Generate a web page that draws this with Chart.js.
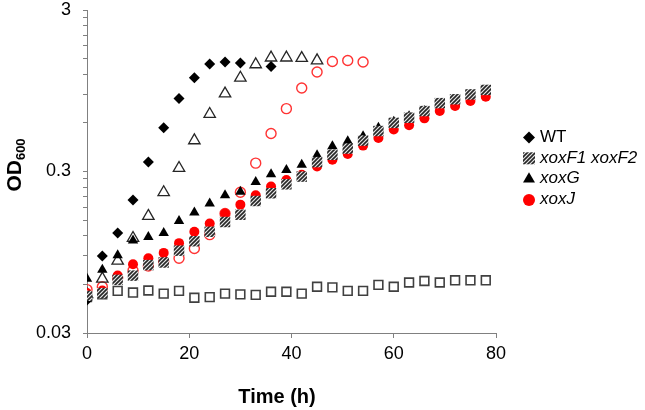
<!DOCTYPE html>
<html>
<head>
<meta charset="utf-8">
<script src="https://cdn.jsdelivr.net/npm/chart.js@4/dist/chart.umd.min.js"></script>
<style>
  body { margin: 0; background: #fff; }
  #wrap { width: 645px; height: 410px; }
</style>
</head>
<body>
<div id="wrap"><canvas id="growthChart"></canvas></div>
<script>
// ===== DATA =====
const timeAll = [0, 3, 6, 9, 12, 15, 18, 21, 24, 27, 30, 33, 36, 39, 42, 45, 48, 51, 54, 57, 60, 63, 66, 69, 72, 75, 78];
const timeWT = [0, 3, 6, 9, 12, 15, 18, 21, 24, 27, 30, 36];
const timeOpenTri = [0, 3, 6, 9, 12, 15, 18, 21, 24, 27, 30, 33, 36, 39, 42, 45];
const timeOpenRed = [0, 3, 6, 9, 12, 15, 18, 21, 24, 27, 30, 33, 36, 39, 42, 45, 48, 51, 54];

const odWT = [0.048, 0.090, 0.125, 0.20, 0.343, 0.56, 0.85, 1.14, 1.39, 1.43, 1.41, 1.34];
const odXoxF = [0.051, 0.053, 0.064, 0.068, 0.079, 0.082, 0.097, 0.111, 0.127, 0.146, 0.162, 0.197, 0.22, 0.25,
  0.279, 0.343, 0.381, 0.416, 0.466, 0.534, 0.60, 0.646, 0.71, 0.795, 0.84, 0.90, 0.96];
const odXoxG = [0.065, 0.074, 0.091, 0.112, 0.118, 0.125, 0.148, 0.167, 0.19, 0.214, 0.225, 0.258, 0.288, 0.307,
  0.33, 0.378, 0.43, 0.462, 0.496, 0.56, 0.61, 0.66, 0.71, 0.78, 0.83, 0.89, 0.95];
const odXoxJ = [0.053, 0.055, 0.068, 0.080, 0.087, 0.094, 0.108, 0.127, 0.143, 0.165, 0.187, 0.214, 0.242, 0.266,
  0.286, 0.322, 0.355, 0.385, 0.434, 0.484, 0.546, 0.58, 0.64, 0.71, 0.764, 0.82, 0.87];
const odOpenTri = [0.052, 0.065, 0.084, 0.116, 0.159, 0.223, 0.315, 0.467, 0.68, 0.91, 1.14, 1.38, 1.52, 1.52, 1.51, 1.46];
const odOpenRed = [0.0557, 0.058, 0.066, 0.073, 0.078, 0.083, 0.087, 0.100, 0.122, 0.165, 0.223, 0.338, 0.516,
  0.735, 0.987, 1.24, 1.44, 1.46, 1.43];
const odOpenSq = [0.050, 0.052, 0.0547, 0.0534, 0.055, 0.0526, 0.0547, 0.0496, 0.050, 0.0526, 0.052, 0.0517, 0.054,
  0.054, 0.0526, 0.058, 0.0575, 0.0547, 0.0547, 0.0596, 0.058, 0.0616, 0.063, 0.0616, 0.0636, 0.0636, 0.0636];

const xTicks = [0, 20, 40, 60, 80];
const yTicks = [0.03, 0.06, 0.09, 0.12, 0.15, 0.18, 0.21, 0.24, 0.27, 0.3,
  0.6, 0.9, 1.2, 1.5, 1.8, 2.1, 2.4, 2.7, 3];
const yLabels = ["0.03", "0.3", "3"];
const legendNames = ["WT", "xoxF1 xoxF2", "xoxG", "xoxJ"];

const FONT = "'Liberation Sans', Arial, sans-serif";

function pts(t, v) {
  return t.map((x, i) => ({ x: x, y: v[i] }));
}

// hatched fill for xoxF1 xoxF2
function makeHatch() {
  const c = document.createElement("canvas");
  c.width = 4; c.height = 4;
  const g = c.getContext("2d");
  g.fillStyle = "#e6e6e6";
  g.fillRect(0, 0, 4, 4);
  g.strokeStyle = "#262626";
  g.lineWidth = 1.6;
  g.beginPath();
  g.moveTo(-1, 5); g.lineTo(5, -1);
  g.moveTo(-1, 1); g.lineTo(1, -1);
  g.moveTo(3, 5); g.lineTo(5, 3);
  g.stroke();
  return g.createPattern(c, "repeat");
}
const hatch = makeHatch();

// ===== AXIS TITLES + LEGEND =====
const extras = {
  id: "extras",
  afterDraw(chart) {
    const ctx = chart.ctx;
    ctx.save();
    ctx.fillStyle = "#000";

    // x title
    ctx.font = "bold 20px " + FONT;
    ctx.textAlign = "center";
    ctx.textBaseline = "middle";
    ctx.fillText("Time (h)", 277, 397);

    // y title OD600 with subscript
    ctx.translate(21, 165);
    ctx.rotate(-Math.PI / 2);
    ctx.textAlign = "left";
    ctx.textBaseline = "alphabetic";
    ctx.font = "bold 21px " + FONT;
    const wOD = ctx.measureText("OD").width;
    ctx.font = "bold 13px " + FONT;
    const wSub = ctx.measureText("600").width;
    const x0 = -(wOD + wSub) / 2;
    ctx.font = "bold 21px " + FONT;
    ctx.fillText("OD", x0, 0);
    ctx.font = "bold 13px " + FONT;
    ctx.fillText("600", x0 + wOD, 4);
    ctx.restore();

    // legend
    ctx.save();
    const radii = [6, 8.5, 6.9, 6];
    legendNames.forEach((name, i) => {
      const ds = chart.data.datasets[i];
      const y = 137 + i * 20.8;
      ctx.fillStyle = ds.backgroundColor;
      ctx.strokeStyle = ds.borderColor;
      ctx.lineWidth = 0;
      Chart.helpers.drawPoint(ctx, { pointStyle: ds.pointStyle, radius: radii[i], rotation: 0, borderWidth: 0 }, 529, y + 0.5);
      ctx.fillStyle = "#000";
      ctx.font = (i === 0 ? "" : "italic ") + "17px " + FONT;
      ctx.textAlign = "left";
      ctx.textBaseline = "middle";
      ctx.fillText(name, 540, y);
    });
    ctx.restore();
  }
};

// ===== CHART =====
new Chart(document.getElementById("growthChart"), {
  type: "scatter",
  data: {
    datasets: [
      { label: "WT", data: pts(timeWT, odWT), pointStyle: "rectRot", pointRadius: 5.5,
        backgroundColor: "#000", borderColor: "#000", borderWidth: 0, order: 3 },
      { label: "xoxF1 xoxF2", data: pts(timeAll, odXoxF), pointStyle: "rect", pointRadius: 7.4,
        backgroundColor: hatch, borderColor: "#262626", borderWidth: 0, order: 0 },
      { label: "xoxG", data: pts(timeAll, odXoxG), pointStyle: "triangle", pointRadius: 6,
        backgroundColor: "#000", borderColor: "#000", borderWidth: 0, order: 2 },
      { label: "xoxJ", data: pts(timeAll, odXoxJ), pointStyle: "circle", pointRadius: 5,
        backgroundColor: "#ff0000", borderColor: "#ff0000", borderWidth: 0, order: 1 },
      { label: "open triangles", data: pts(timeOpenTri, odOpenTri), pointStyle: "triangle", pointRadius: 6.6,
        backgroundColor: "rgba(0,0,0,0)", borderColor: "#262626", borderWidth: 1.3, order: 4 },
      { label: "open circles", data: pts(timeOpenRed, odOpenRed), pointStyle: "circle", pointRadius: 5,
        backgroundColor: "rgba(0,0,0,0)", borderColor: "#ff3333", borderWidth: 1.4, order: 5 },
      { label: "open squares", data: pts(timeAll, odOpenSq), pointStyle: "rect", pointRadius: 6.2,
        backgroundColor: "rgba(0,0,0,0)", borderColor: "#404040", borderWidth: 1.6, order: 6 }
    ]
  },
  options: {
    responsive: true,
    maintainAspectRatio: false,
    animation: false,
    layout: { padding: { top: 10, right: 149, left: 0, bottom: 0 } },
    plugins: {
      legend: { display: false },
      tooltip: { enabled: false }
    },
    scales: {
      x: {
        type: "linear",
        min: 0,
        max: 80,
        afterBuildTicks: s => { s.ticks = xTicks.map(v => ({ value: v })); },
        afterFit: s => { s.height = 77; s.paddingLeft = 0; s.paddingRight = 0; },
        grid: { display: true, drawOnChartArea: false, tickLength: 5, color: "#808080" },
        border: { color: "#808080", width: 1 },
        ticks: { color: "#000", font: { family: FONT, size: 18 }, padding: 5, maxRotation: 0 }
      },
      y: {
        type: "logarithmic",
        min: 0.03,
        max: 3,
        afterBuildTicks: s => { s.ticks = yTicks.map(v => ({ value: v })); },
        afterFit: s => { s.width = 87; s.paddingTop = 0; s.paddingBottom = 0; },
        grid: { display: true, drawOnChartArea: false, tickLength: 4, color: "#808080" },
        border: { color: "#808080", width: 1 },
        ticks: {
          color: "#000",
          font: { family: FONT, size: 18 },
          padding: 12,
          autoSkip: false,
          callback: v => (yLabels.includes(String(v)) ? String(v) : "")
        }
      }
    }
  },
  plugins: [extras]
});
</script>
</body>
</html>
